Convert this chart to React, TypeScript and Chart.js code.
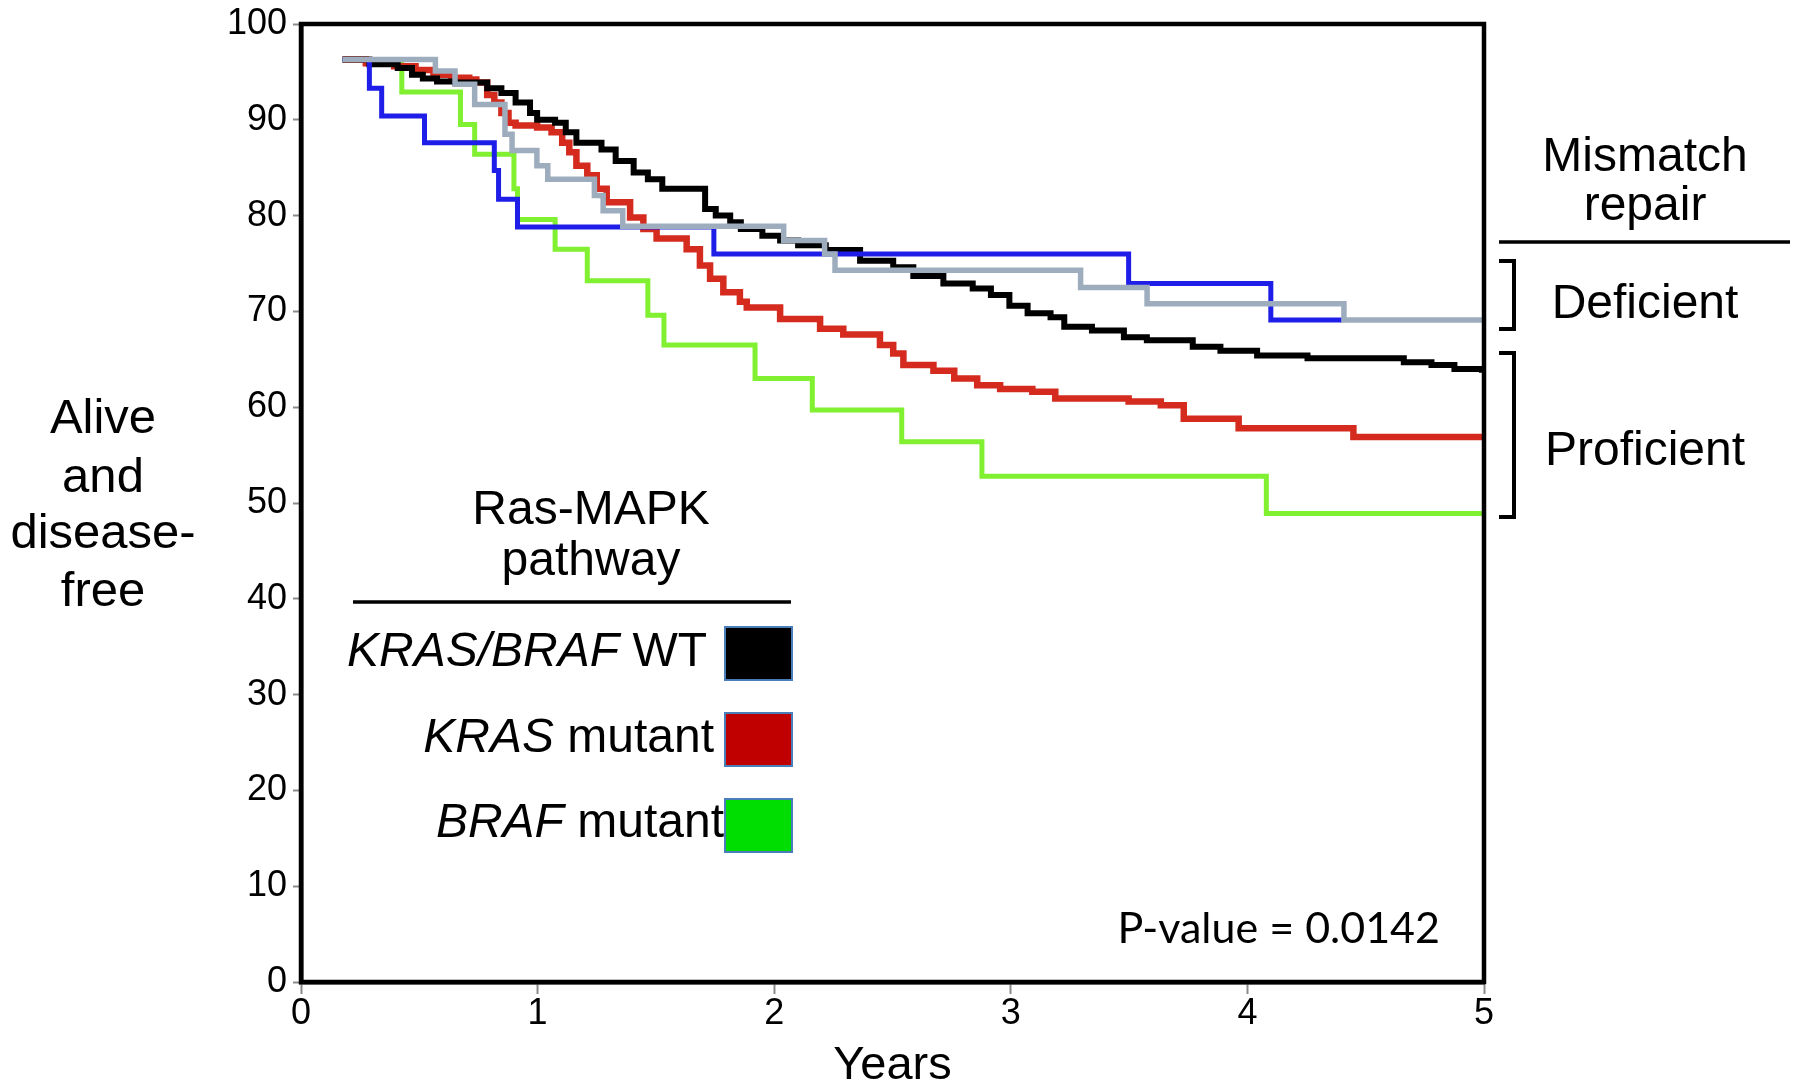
import React, { useEffect, useRef } from 'react';
import { Chart, registerables } from 'chart.js';

Chart.register(...registerables);

// ---------- data ----------
const xTickValues = [0, 1, 2, 3, 4, 5];
const yTickValues = [0, 10, 20, 30, 40, 50, 60, 70, 80, 90, 100];

// Mismatch repair deficient (grey)
const greyYears = [0.175, 0.568, 0.651, 0.734, 0.862, 0.892, 0.997, 1.043, 1.24, 1.277, 1.36, 2.04, 2.213, 2.257, 3.295, 3.576, 4.408, 5.0];
const greyValues = [96.3, 95.1, 93.7, 91.6, 88.5, 86.8, 85.2, 83.8, 82.1, 80.5, 78.9, 77.4, 76.0, 74.3, 72.5, 70.8, 69.1, 69.1];

// Mismatch repair deficient (blue)
const blueYears = [0.175, 0.289, 0.341, 0.522, 0.817, 0.835, 0.915, 1.745, 3.498, 4.099, 4.4];
const blueValues = [96.3, 93.3, 90.4, 87.6, 84.7, 81.7, 78.8, 76.0, 72.9, 69.1, 69.1];

// KRAS/BRAF WT (black)
const wtYears = [0.175, 0.289, 0.409, 0.469, 0.515, 0.575, 0.651, 0.787, 0.847, 0.907, 0.968, 0.998, 1.074, 1.119, 1.164, 1.27, 1.33, 1.406, 1.466, 1.527, 1.708, 1.753, 1.814, 1.859, 1.95, 2.025, 2.101, 2.218, 2.363, 2.503, 2.588, 2.715, 2.839, 2.916, 2.994, 3.071, 3.168, 3.226, 3.343, 3.478, 3.575, 3.769, 3.886, 4.041, 4.254, 4.661, 4.778, 4.875, 4.991, 5.0];
const wtValues = [96.3, 95.8, 95.4, 94.7, 94.3, 94.0, 93.9, 93.3, 92.8, 91.8, 90.7, 90.0, 89.7, 88.7, 87.6, 86.9, 85.7, 84.5, 83.8, 82.8, 80.7, 80.0, 79.3, 78.6, 77.9, 77.4, 76.9, 76.4, 75.3, 74.6, 73.7, 72.9, 72.4, 71.7, 70.6, 69.8, 69.4, 68.4, 68.0, 67.3, 67.0, 66.3, 65.9, 65.4, 65.1, 64.7, 64.4, 64.0, 63.9, 63.9];

// KRAS mutant (red)
const krasYears = [0.175, 0.274, 0.394, 0.484, 0.56, 0.635, 0.711, 0.741, 0.787, 0.817, 0.847, 0.877, 0.907, 0.998, 1.059, 1.104, 1.134, 1.164, 1.21, 1.25, 1.292, 1.391, 1.447, 1.503, 1.63, 1.686, 1.729, 1.785, 1.855, 1.884, 2.025, 2.194, 2.292, 2.447, 2.503, 2.546, 2.673, 2.761, 2.858, 2.955, 3.091, 3.188, 3.498, 3.634, 3.731, 3.963, 4.448, 5.0];
const krasValues = [96.3, 95.9, 95.6, 95.2, 94.7, 94.4, 94.2, 93.9, 92.6, 91.8, 90.7, 89.7, 89.4, 89.2, 88.7, 87.6, 86.6, 85.2, 84.2, 82.8, 81.4, 79.8, 78.6, 77.6, 76.5, 74.8, 73.4, 72.0, 71.0, 70.4, 69.2, 68.2, 67.6, 66.5, 65.6, 64.4, 63.8, 63.0, 62.3, 61.9, 61.6, 60.9, 60.6, 60.2, 58.8, 57.8, 56.9, 56.9];

// BRAF mutant (green)
const brafYears = [0.175, 0.426, 0.674, 0.734, 0.9, 0.915, 1.074, 1.21, 1.466, 1.534, 1.919, 2.161, 2.539, 2.878, 4.08, 5.0];
const brafValues = [96.3, 92.9, 89.5, 86.4, 82.8, 79.6, 76.5, 73.2, 69.6, 66.5, 63.0, 59.7, 56.4, 52.8, 48.9, 48.9];

const yTitleLines = ['Alive', 'and', 'disease-', 'free'];
const legendTitle = ['Ras-MAPK', 'pathway'];
const legendItalic = ['KRAS/BRAF', 'KRAS', 'BRAF'];
const legendNormal = [' WT', ' mutant', ' mutant'];
const legendColors = ['#000000', '#c00000', '#00dd00'];
const mmrTitle = ['Mismatch', 'repair'];
const mmrGroups = ['Deficient', 'Proficient'];
const pValueText = 'P-value = 0.0142';

const SANS = '"Liberation Sans", Arial, sans-serif';

const toPoints = (xs: number[], ys: number[]) => xs.map((x, i) => ({ x, y: ys[i] }));

const annotationPlugin = {
  id: 'annotations',
  afterDraw(chart: any) {
    const ctx: CanvasRenderingContext2D = chart.ctx;
    const { left, right, top, bottom } = chart.chartArea;
    ctx.save();
    // plot frame
    ctx.strokeStyle = '#000';
    ctx.lineWidth = 4.5;
    ctx.strokeRect(left, top, right - left, bottom - top);

    ctx.fillStyle = '#000';
    // y title (horizontal, multi-line)
    ctx.font = `49px ${SANS}`;
    ctx.textAlign = 'center';
    ctx.textBaseline = 'alphabetic';
    const yBase = [433, 492, 548, 606];
    yTitleLines.forEach((t, i) => ctx.fillText(t, 103, yBase[i]));

    // Ras-MAPK legend title
    ctx.font = `48px ${SANS}`;
    const lgBase = [524, 575];
    legendTitle.forEach((t, i) => ctx.fillText(t, 591, lgBase[i]));
    ctx.lineWidth = 3.5;
    ctx.beginPath();
    ctx.moveTo(353, 602);
    ctx.lineTo(791, 602);
    ctx.stroke();

    // legend rows
    const rowRight = [707, 714, 724];
    const rowBase = [666, 752, 837];
    const boxTop = [627, 713, 799];
    legendItalic.forEach((it, i) => {
      ctx.textAlign = 'right';
      ctx.font = `48px ${SANS}`;
      const w2 = ctx.measureText(legendNormal[i]).width;
      ctx.fillText(legendNormal[i], rowRight[i], rowBase[i]);
      ctx.font = `italic 48px ${SANS}`;
      ctx.fillText(it, rowRight[i] - w2, rowBase[i]);
      ctx.fillStyle = legendColors[i];
      ctx.fillRect(725, boxTop[i], 67, 53);
      ctx.strokeStyle = '#4a7ebb';
      ctx.lineWidth = 2;
      ctx.strokeRect(725, boxTop[i], 67, 53);
      ctx.fillStyle = '#000';
    });

    // mismatch repair annotation
    ctx.strokeStyle = '#000';
    ctx.textAlign = 'center';
    ctx.font = `48px ${SANS}`;
    const mmBase = [171, 220];
    mmrTitle.forEach((t, i) => ctx.fillText(t, 1645, mmBase[i]));
    ctx.lineWidth = 3.5;
    ctx.beginPath();
    ctx.moveTo(1499, 242);
    ctx.lineTo(1790, 242);
    ctx.stroke();
    const brTop = [261, 353];
    const brBot = [329, 517];
    const grBase = [318, 465];
    ctx.lineWidth = 4;
    mmrGroups.forEach((t, i) => {
      ctx.beginPath();
      ctx.moveTo(1499, brTop[i]);
      ctx.lineTo(1514, brTop[i]);
      ctx.lineTo(1514, brBot[i]);
      ctx.lineTo(1499, brBot[i]);
      ctx.stroke();
      ctx.fillText(t, 1645, grBase[i]);
    });

    // p-value
    ctx.textAlign = 'right';
    ctx.font = `43px Lato, "Open Sans", sans-serif`;
    ctx.fillText(pValueText, 1440, 943);
    ctx.restore();
  },
};

export default function App() {
  const canvasRef = useRef<HTMLCanvasElement | null>(null);

  useEffect(() => {
    document.body.style.margin = '0';
    const canvas = canvasRef.current;
    if (!canvas) return;
    const mk = (label: string, xs: number[], ys: number[], color: string, width: number) => ({
      label,
      data: toPoints(xs, ys),
      borderColor: color,
      backgroundColor: color,
      borderWidth: width,
      pointRadius: 0,
      stepped: 'before' as const,
      fill: false,
      borderJoinStyle: 'miter' as const,
      borderCapStyle: 'butt' as const,
    });
    const chart = new Chart(canvas, {
      type: 'line',
      data: {
        datasets: [
          mk('Deficient (grey)', greyYears, greyValues, '#9eadbd', 5.5),
          mk('Deficient (blue)', blueYears, blueValues, '#1e1ee8', 5),
          mk('KRAS/BRAF WT', wtYears, wtValues, '#000000', 6),
          mk('KRAS mutant', krasYears, krasValues, '#d42b1e', 6.5),
          mk('BRAF mutant', brafYears, brafValues, '#80f030', 5),
        ],
      },
      options: {
        responsive: false,
        animation: false,
        devicePixelRatio: 1,
        layout: { padding: { left: 0, right: 318, top: 21, bottom: 0 } },
        plugins: { legend: { display: false }, tooltip: { enabled: false } },
        scales: {
          x: {
            type: 'linear',
            min: 0,
            max: 5,
            afterFit: (s: any) => { s.height = 106; },
            afterBuildTicks: (s: any) => { s.ticks = xTickValues.map((v) => ({ value: v })); },
            ticks: { color: '#000', padding: 2, font: { family: SANS, size: 36, lineHeight: 1 } },
            grid: { drawOnChartArea: false, drawTicks: true, tickLength: 12, tickColor: '#8a8a8a', tickWidth: 2 },
            border: { display: true, color: '#000', width: 4.5 },
            title: { display: true, text: 'Years', color: '#000', padding: 0, font: { family: SANS, size: 47, lineHeight: 0.95 } },
          },
          y: {
            type: 'linear',
            min: 0,
            max: 100,
            afterFit: (s: any) => { s.width = 301; },
            afterBuildTicks: (s: any) => { s.ticks = yTickValues.map((v) => ({ value: v })); },
            ticks: { color: '#000', padding: 6, font: { family: SANS, size: 36, lineHeight: 1 } },
            grid: { drawOnChartArea: false, drawTicks: true, tickLength: 8, tickColor: '#8a8a8a', tickWidth: 2 },
            border: { display: true, color: '#000', width: 4.5 },
          },
        },
      },
      plugins: [annotationPlugin],
    });
    return () => chart.destroy();
  }, []);

  return (
    <div style={{ position: 'absolute', left: 0, top: 0, width: 1802, height: 1088, background: '#fff' }}>
      <canvas ref={canvasRef} width={1802} height={1088} style={{ display: 'block' }} />
    </div>
  );
}
